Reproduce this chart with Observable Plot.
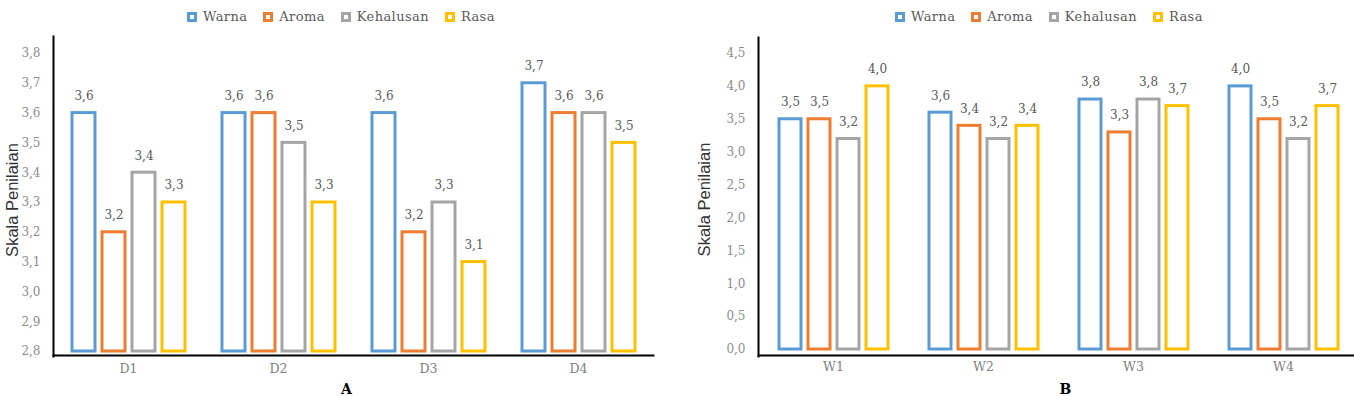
<!DOCTYPE html>
<html>
<head>
<meta charset="utf-8">
<script src="https://cdn.jsdelivr.net/npm/d3@7"></script>
<script src="https://cdn.jsdelivr.net/npm/@observablehq/plot@0.6"></script>
<style>
  html, body { margin: 0; padding: 0; background: #fff; }
  body { position: relative; width: 1354px; height: 396px; overflow: hidden; }
  .panel { position: absolute; top: 0; height: 396px; }
  .panel svg { position: absolute; top: 30px; left: 0; overflow: visible; }
  .legend { position: absolute; top: 9px; display: flex; align-items: center;
            font-family: "DejaVu Serif", serif; font-size: 13px; letter-spacing: 0.4px; color: #595959; }
  .legend .item { display: flex; align-items: center; margin-right: 16px; }
  .legend .sw { width: 4px; height: 4px; border: 3px solid; background: #fff; margin-right: 6px; }
</style>
</head>
<body>
<div id="panelA" class="panel" style="left:0; width:677px"></div>
<div id="panelB" class="panel" style="left:677px; width:682px"></div>
<script>
// Sensory attributes and their colours
const series = ["Warna", "Aroma", "Kehalusan", "Rasa"];
const seriesColors = ["#5B9BD5", "#ED7D31", "#A5A5A5", "#FFC000"];

// Panel A: formulations D1–D4
const catsA = ["D1", "D2", "D3", "D4"];
const warnaA = [3.6, 3.6, 3.6, 3.7];
const aromaA = [3.2, 3.6, 3.2, 3.6];
const kehalusanA = [3.4, 3.5, 3.3, 3.6];
const rasaA = [3.3, 3.3, 3.1, 3.5];
const ticksA = [2.8, 2.9, 3.0, 3.1, 3.2, 3.3, 3.4, 3.5, 3.6, 3.7, 3.8];

// Panel B: formulations W1–W4
const catsB = ["W1", "W2", "W3", "W4"];
const warnaB = [3.5, 3.6, 3.8, 4.0];
const aromaB = [3.5, 3.4, 3.3, 3.5];
const kehalusanB = [3.2, 3.2, 3.8, 3.2];
const rasaB = [4.0, 3.4, 3.7, 3.7];
const ticksB = [0.0, 0.5, 1.0, 1.5, 2.0, 2.5, 3.0, 3.5, 4.0, 4.5];

const yTitle = "Skala Penilaian";

// Decimal comma, one digit
const comma = v => d3.format(".1f")(v).replace(".", ",");

function rows(cats, cols) {
  return cats.flatMap((c, i) => series.map((s, j) => ({cat: c, series: s, value: cols[j][i]})));
}

function legend(left) {
  const div = document.createElement("div");
  div.className = "legend";
  div.style.left = left + "px";
  series.forEach((s, i) => {
    const item = document.createElement("div");
    item.className = "item";
    const sw = document.createElement("span");
    sw.className = "sw";
    sw.style.borderColor = seriesColors[i];
    const label = document.createElement("span");
    label.textContent = s;
    item.append(sw, label);
    div.append(item);
  });
  return div;
}

function chart(o) {
  const data = rows(o.cats, o.cols);
  const yMin = o.yDomain[0];
  return Plot.plot({
    width: o.width,
    height: 366,
    marginTop: o.marginTop,
    marginBottom: o.marginBottom,
    marginLeft: o.marginLeft,
    marginRight: o.marginRight,
    style: {fontFamily: "DejaVu Serif", background: "transparent"},
    fx: {domain: o.cats, paddingInner: 0, paddingOuter: o.fxPadOuter, align: o.fxAlign},
    x: {domain: series, paddingInner: o.xPadInner, paddingOuter: o.xPadOuter, axis: null},
    y: {domain: o.yDomain},
    color: {domain: series, range: seriesColors},
    marks: [
      Plot.barY(data, {
        fx: "cat", x: "series", y1: yMin, y2: "value",
        stroke: "series", fill: "white", strokeWidth: 3
      }),
      Plot.text(data, {
        fx: "cat", x: "series", y: "value", text: d => comma(d.value),
        dy: -17, fill: "#595959", fontSize: 12
      }),
      Plot.axisY({
        ticks: o.ticks, tickFormat: comma, tickSize: 0, tickPadding: o.yTickPad,
        label: null, color: "#8c8c8c", fontSize: 12
      }),
      Plot.axisFx({
        anchor: "bottom", tickSize: 0, tickPadding: 13, label: null,
        color: "#808080", fontSize: 12.5
      }),
      Plot.frame({anchor: "left", facet: "super", stroke: "#000", strokeWidth: 2, insetBottom: -o.axisDy - 1}),
      Plot.frame({anchor: "bottom", facet: "super", stroke: "#000", strokeWidth: 2, dy: o.axisDy}),
      Plot.text([yTitle], {
        facet: "super", frameAnchor: "left", text: d => d, rotate: -90,
        textAnchor: "middle", lineAnchor: "middle", dx: o.titleDx, dy: o.titleDy,
        fontFamily: "Liberation Sans", fontSize: 16.5, fill: "#333"
      }),
      Plot.text([o.letter], {
        facet: "super", frameAnchor: "bottom", text: d => d,
        lineAnchor: "middle", dx: o.letterDx, dy: o.letterDy,
        fontFamily: "DejaVu Serif", fontWeight: "bold", fontSize: 14, fill: "#000"
      })
    ]
  });
}

const panelA = document.getElementById("panelA");
panelA.append(legend(187));
panelA.append(chart({
  cats: catsA, cols: [warnaA, aromaA, kehalusanA, rasaA], ticks: ticksA,
  width: 677, marginTop: 6, marginBottom: 45, marginLeft: 45, marginRight: 10,
  yDomain: [2.8, 3.857], fxPadOuter: 0.0625, fxAlign: 0.35,
  xPadInner: 0.246, xPadOuter: 0.595, yTickPad: 13, axisDy: 4,
  titleDx: -41, titleDy: 6, letter: "A", letterDx: -7, letterDy: 38
}));

const panelB = document.getElementById("panelB");
panelB.append(legend(218));
panelB.append(chart({
  cats: catsB, cols: [warnaB, aromaB, kehalusanB, rasaB], ticks: ticksB,
  width: 682, marginTop: 7, marginBottom: 47, marginLeft: 80, marginRight: 0,
  yDomain: [0, 4.743], fxPadOuter: 0, fxAlign: 0.5,
  xPadInner: 0.25, xPadOuter: 0.633, yTickPad: 13, axisDy: 6,
  titleDx: -54, titleDy: 6, letter: "B", letterDx: 7, letterDy: 40
}));
</script>
</body>
</html>
